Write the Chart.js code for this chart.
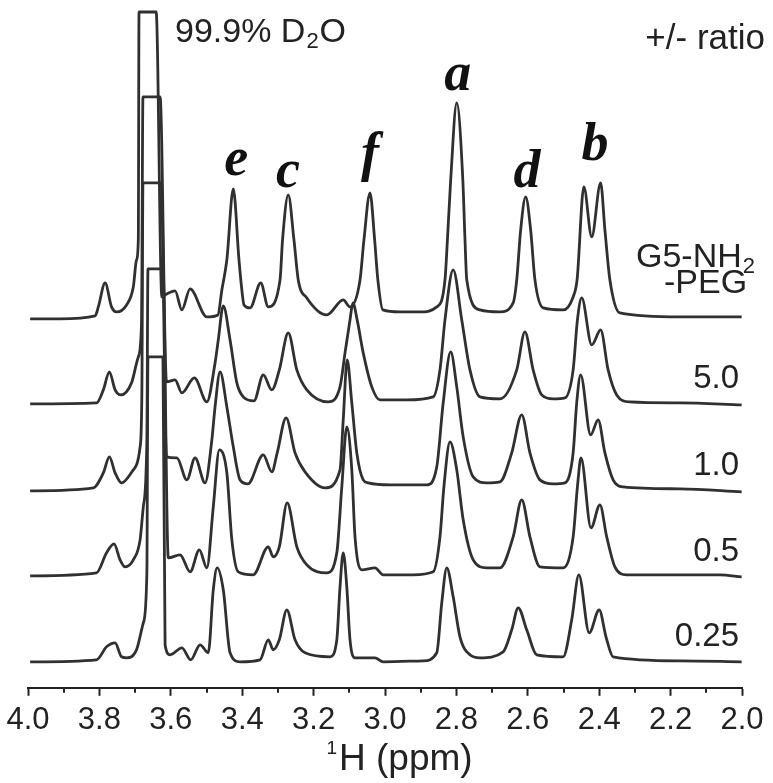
<!DOCTYPE html>
<html>
<head>
<meta charset="utf-8">
<script src="https://cdn.jsdelivr.net/npm/chart.js@4"></script>
<style>
  html, body { margin: 0; padding: 0; background: #fff; }
</style>
</head>
<body>
<canvas id="nmr" width="773" height="783"></canvas>
<script>
// spectra: [ppm, intensity above own baseline]
var specPEG = [[3.994,0],[3.910,0],[3.812,3],[3.803,12],[3.784,36],[3.766,12],[3.752,7],[3.724,14],[3.705,32],[3.696,59],[3.691,79],[3.689,307],[3.641,307],[3.625,22],[3.616,24],[3.588,28],[3.569,9],[3.546,30],[3.499,2],[3.468,4],[3.457,29],[3.443,59],[3.425,130],[3.409,59],[3.401,29],[3.395,14],[3.378,11],[3.348,36],[3.327,12],[3.294,39],[3.287,79],[3.271,124],[3.255,79],[3.243,39],[3.219,21],[3.163,4],[3.117,19],[3.098,12],[3.070,39],[3.059,79],[3.042,126],[3.029,79],[3.020,39],[3.006,9],[2.958,7],[2.902,7],[2.855,12],[2.832,39],[2.825,80],[2.816,139],[2.799,216],[2.782,139],[2.776,80],[2.771,39],[2.734,9],[2.678,7],[2.641,16],[2.631,39],[2.620,89],[2.606,122],[2.592,89],[2.580,39],[2.557,11],[2.501,9],[2.473,22],[2.462,39],[2.443,132],[2.421,82],[2.396,136],[2.384,89],[2.370,39],[2.342,6],[2.174,2],[2.001,2]];
var spec50 = [[3.994,0],[3.808,1],[3.789,14],[3.772,32],[3.756,14],[3.740,9],[3.710,21],[3.691,47],[3.682,81],[3.678,307],[3.630,307],[3.612,22],[3.588,24],[3.569,11],[3.534,26],[3.499,2],[3.476,41],[3.467,64],[3.453,98],[3.434,64],[3.415,21],[3.397,7],[3.367,3],[3.341,29],[3.317,14],[3.296,34],[3.271,71],[3.247,34],[3.219,14],[3.159,2],[3.126,17],[3.112,51],[3.098,84],[3.090,101],[3.078,84],[3.061,51],[3.037,17],[3.014,4],[2.939,4],[2.865,7],[2.846,34],[2.832,84],[2.809,134],[2.785,84],[2.762,34],[2.734,7],[2.678,5],[2.631,34],[2.608,72],[2.585,34],[2.561,9],[2.529,5],[2.496,6],[2.473,34],[2.461,84],[2.449,106],[2.421,59],[2.396,74],[2.375,34],[2.351,9],[2.314,2],[2.174,1],[2.001,-1]];
var spec10 = [[3.994,0],[3.817,3],[3.789,18],[3.772,34],[3.756,18],[3.738,8],[3.705,21],[3.686,44],[3.681,100],[3.678,308],[3.627,308],[3.612,34],[3.583,33],[3.555,11],[3.532,33],[3.504,8],[3.485,51],[3.476,84],[3.462,119],[3.443,84],[3.425,44],[3.406,11],[3.384,7],[3.341,36],[3.317,19],[3.302,38],[3.277,73],[3.252,38],[3.224,19],[3.168,3],[3.126,21],[3.117,71],[3.106,131],[3.093,88],[3.079,38],[3.061,11],[3.047,8],[2.986,6],[2.883,6],[2.855,24],[2.837,88],[2.816,139],[2.799,104],[2.781,54],[2.753,14],[2.715,8],[2.678,9],[2.645,38],[2.617,76],[2.594,38],[2.566,11],[2.529,7],[2.496,8],[2.473,38],[2.463,88],[2.452,116],[2.424,56],[2.403,71],[2.384,38],[2.361,11],[2.333,4],[2.174,2],[2.001,-1]];
var spec05 = [[3.994,1],[3.808,4],[3.780,24],[3.759,33],[3.742,17],[3.728,10],[3.705,17],[3.686,37],[3.677,70],[3.667,137],[3.664,308],[3.622,308],[3.607,19],[3.574,22],[3.546,5],[3.520,27],[3.499,9],[3.481,70],[3.464,127],[3.443,104],[3.429,37],[3.411,5],[3.369,2],[3.327,30],[3.313,20],[3.296,30],[3.274,74],[3.247,30],[3.219,12],[3.163,4],[3.135,24],[3.121,90],[3.107,150],[3.093,107],[3.084,40],[3.065,7],[3.028,9],[3.005,2],[2.921,2],[2.865,5],[2.846,40],[2.835,90],[2.818,135],[2.799,107],[2.781,57],[2.753,17],[2.715,9],[2.678,9],[2.641,40],[2.617,77],[2.594,40],[2.566,10],[2.501,9],[2.473,40],[2.461,90],[2.451,119],[2.423,49],[2.398,72],[2.379,40],[2.356,10],[2.323,2],[2.062,2],[2.001,0]];
var spec025 = [[3.994,0],[3.808,2],[3.780,15],[3.756,19],[3.738,5],[3.724,4],[3.696,12],[3.677,39],[3.667,89],[3.664,305],[3.622,305],[3.616,17],[3.602,7],[3.569,14],[3.544,2],[3.518,17],[3.495,9],[3.481,72],[3.470,94],[3.453,72],[3.434,9],[3.406,0],[3.350,2],[3.327,22],[3.313,12],[3.296,22],[3.275,52],[3.252,22],[3.224,9],[3.154,5],[3.135,22],[3.126,75],[3.117,109],[3.107,75],[3.098,22],[3.084,4],[3.028,4],[3.005,0],[2.893,1],[2.855,9],[2.841,59],[2.827,94],[2.809,65],[2.790,25],[2.762,7],[2.734,4],[2.669,10],[2.645,32],[2.627,54],[2.603,32],[2.575,7],[2.501,5],[2.477,42],[2.457,87],[2.428,29],[2.400,52],[2.381,25],[2.361,5],[2.174,1],[2.001,0]];

var spectra = [specPEG, spec50, spec10, spec05, spec025];
var offsets = [369, 284, 197, 111, 26];          // stacking baseline of each trace
var ratioLabels = ['', '5.0', '1.0', '0.5', '0.25'];

var peakLetters = ['e', 'c', 'f', 'a', 'd', 'b'];
var peakLetterPpm = [3.417, 3.272, 3.042, 2.796, 2.602, 2.412];
var peakLetterY = [513, 501, 518, 598, 501, 528];

var minorTicks = [3.9, 3.7, 3.5, 3.3, 3.1, 2.9, 2.7, 2.5, 2.3, 2.1];

var datasets = spectra.map(function(s, k) {
    return {
        data: s.map(function(p) { return { x: p[0], y: offsets[k] + p[1] }; }),
        borderColor: '#303030',
        borderWidth: 2.8,
        pointRadius: 0,
        cubicInterpolationMode: 'monotone',
        fill: false
    };
});

// text and minor ticks drawn on top of the spectra
var annotate = {
    id: 'annotate',
    afterDraw: function(chart) {
        var ctx = chart.ctx, xs = chart.scales.x, ys = chart.scales.y;
        var bottom = chart.chartArea.bottom;
        ctx.save();
        ctx.strokeStyle = '#222';
        ctx.lineWidth = 2;
        minorTicks.forEach(function(v) {
            var px = Math.round(xs.getPixelForValue(v));
            ctx.beginPath();
            ctx.moveTo(px, bottom);
            ctx.lineTo(px, bottom + 5);
            ctx.stroke();
        });

        ctx.fillStyle = '#222';
        ctx.textBaseline = 'alphabetic';

        // ratio labels at the right end of each trace
        ctx.font = '33px "Liberation Sans", Arial, sans-serif';
        ctx.textAlign = 'right';
        for (var k = 1; k < ratioLabels.length; k++) {
            ctx.fillText(ratioLabels[k], 739, ys.getPixelForValue(offsets[k]) - 16);
        }
        // G5-NH2 / -PEG
        var yb = ys.getPixelForValue(offsets[0]);
        ctx.font = '34px "Liberation Sans", Arial, sans-serif';
        ctx.textAlign = 'left';
        ctx.fillText('G5-NH', 636, yb - 52);
        var w = ctx.measureText('G5-NH').width;
        ctx.font = '22px "Liberation Sans", Arial, sans-serif';
        ctx.fillText('2', 636 + w + 1, yb - 46);
        ctx.font = '34px "Liberation Sans", Arial, sans-serif';
        ctx.fillText('-PEG', 664, yb - 26);

        // header texts
        ctx.fillText('99.9% D', 175, 42);
        var w2 = ctx.measureText('99.9% D').width;
        ctx.font = '22px "Liberation Sans", Arial, sans-serif';
        ctx.fillText('2', 175 + w2 + 1, 48);
        ctx.font = '34px "Liberation Sans", Arial, sans-serif';
        ctx.fillText('O', 175 + w2 + 14, 42);
        ctx.textAlign = 'right';
        ctx.font = '35px "Liberation Sans", Arial, sans-serif';
        ctx.fillText('+/- ratio', 765, 49);

        // axis title
        ctx.textAlign = 'left';
        ctx.font = '37px "Liberation Sans", Arial, sans-serif';
        ctx.fillText('H (ppm)', 339, 770);
        ctx.font = '19px "Liberation Sans", Arial, sans-serif';
        ctx.textAlign = 'right';
        ctx.fillText('1', 337, 754);

        // peak letters
        ctx.fillStyle = '#111';
        ctx.textAlign = 'center';
        ctx.font = 'italic bold 54px "Liberation Serif", "Times New Roman", serif';
        peakLetters.forEach(function(t, i) {
            ctx.fillText(t, xs.getPixelForValue(peakLetterPpm[i]), ys.getPixelForValue(peakLetterY[i]));
        });
        ctx.restore();
    }
};

var chart = new Chart(document.getElementById('nmr').getContext('2d'), {
    type: 'line',
    data: { datasets: datasets },
    options: {
        responsive: false,
        animation: false,
        layout: { padding: { left: 28, right: 31, top: 10, bottom: 38 } },
        plugins: { legend: { display: false }, tooltip: { enabled: false } },
        scales: {
            x: {
                type: 'linear',
                reverse: true,
                min: 2.0,
                max: 4.0,
                border: { display: true, color: '#222', width: 2 },
                grid: { drawOnChartArea: false, drawTicks: true, tickLength: 8, tickWidth: 2, color: '#222' },
                ticks: {
                    stepSize: 0.2,
                    padding: 6,
                    color: '#222',
                    maxRotation: 0,
                    font: { family: '"Liberation Sans", Arial, sans-serif', size: 31 },
                    callback: function(v) { return Number(v).toFixed(1); }
                }
            },
            y: {
                display: false,
                min: 0,
                max: 678
            }
        }
    },
    plugins: [annotate]
});
</script>
</body>
</html>
